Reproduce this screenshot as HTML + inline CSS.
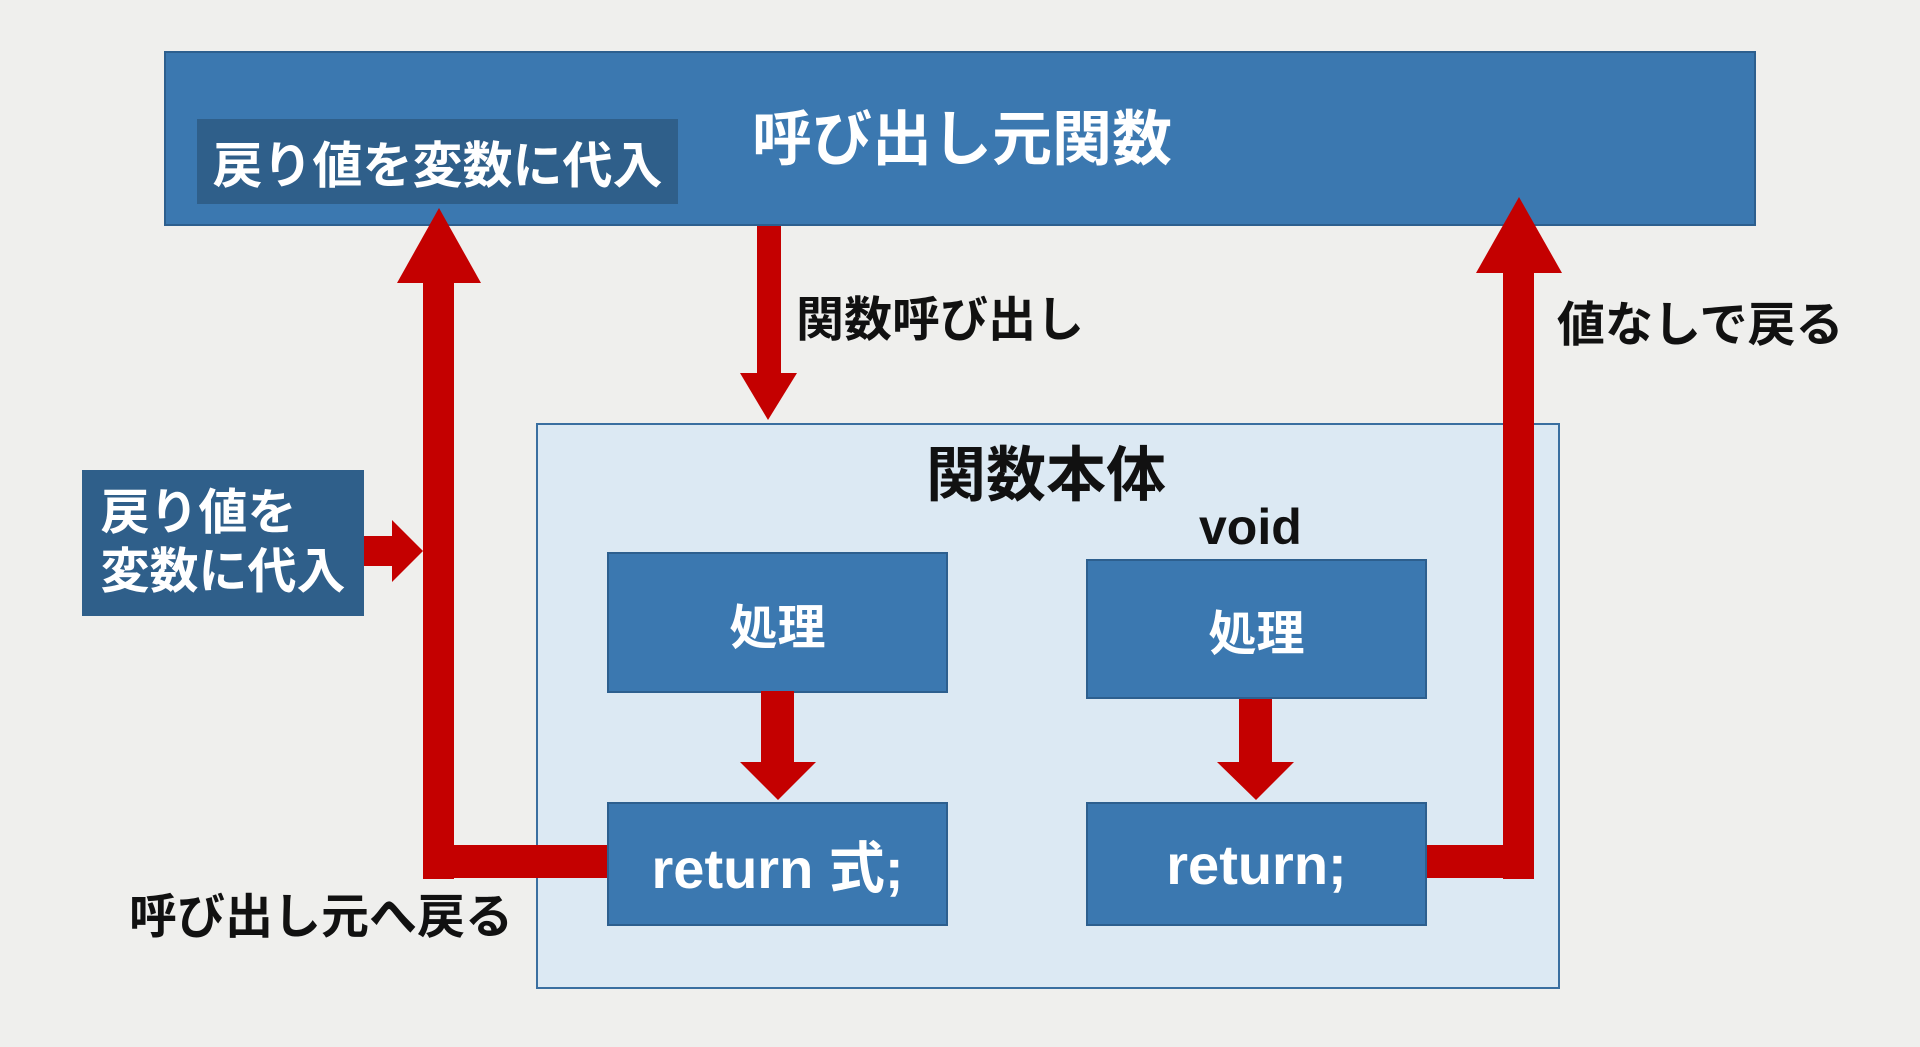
<!DOCTYPE html>
<html><head><meta charset="utf-8"><style>
body{margin:0;width:1920px;height:1047px;background:#efefed;position:relative;overflow:hidden;font-family:"Liberation Sans","Noto Sans CJK JP",sans-serif;font-weight:bold}
.b{position:absolute;background:#3b78b0;border:2px solid #2d5f8e;box-sizing:border-box;color:#fff;display:flex;align-items:center;justify-content:center}
.t{position:absolute;white-space:nowrap;line-height:1}
</style></head><body>
<div class="b" style="left:164px;top:51px;width:1592px;height:175px"></div>
<div class="b" style="left:197px;top:119px;width:481px;height:85px;background:#2f5f8a;border:none;font-size:50px">戻り値を変数に代入</div>
<div class="t" style="left:752px;top:110px;font-size:60px;color:#fff">呼び出し元関数</div>
<div style="position:absolute;left:536px;top:423px;width:1024px;height:566px;background:#dce9f3;border:2px solid #3a6fa0;box-sizing:border-box"></div>
<div class="t" style="left:926px;top:446px;font-size:60px;color:#111">関数本体</div>
<div class="t" style="left:1199px;top:502px;font-size:50px;color:#111;font-weight:bold">void</div>
<div class="b" style="left:607px;top:552px;width:341px;height:141px;font-size:48px">処理</div>
<div class="b" style="left:607px;top:802px;width:341px;height:124px;font-size:56px">return 式;</div>
<div class="b" style="left:1086px;top:559px;width:341px;height:140px;font-size:48px">処理</div>
<div class="b" style="left:1086px;top:802px;width:341px;height:124px;font-size:56px">return;</div>
<div class="b" style="left:82px;top:470px;width:282px;height:146px;background:#2f5f8a;border:none;font-size:49px;flex-direction:column;line-height:1.2">戻り値を<br>変数に代入</div>
<svg width="1920" height="1047" style="position:absolute;left:0;top:0">
<g fill="#c40000">
<rect x="757" y="226" width="24" height="148"/><polygon points="740,373 797,373 768,420"/>
<rect x="761" y="691" width="33" height="72"/><polygon points="740,762 816,762 778,800"/>
<rect x="1239" y="699" width="33" height="64"/><polygon points="1217,762 1294,762 1256,800"/>
<rect x="423" y="259" width="31" height="620"/><rect x="423" y="845" width="184" height="33"/><polygon points="397,283 481,283 439,208"/>
<rect x="364" y="536" width="32" height="30"/><polygon points="392,520 423,551 392,582"/>
<rect x="1503" y="249" width="31" height="630"/><rect x="1427" y="845" width="107" height="33"/><polygon points="1476,273 1562,273 1519,197"/>
</g></svg>
<div class="t" style="left:796px;top:297px;font-size:48px;color:#111">関数呼び出し</div>
<div class="t" style="left:1557px;top:302px;font-size:48px;color:#111">値なしで戻る</div>
<div class="t" style="left:129px;top:894px;font-size:48px;color:#111">呼び出し元へ戻る</div>
</body></html>
